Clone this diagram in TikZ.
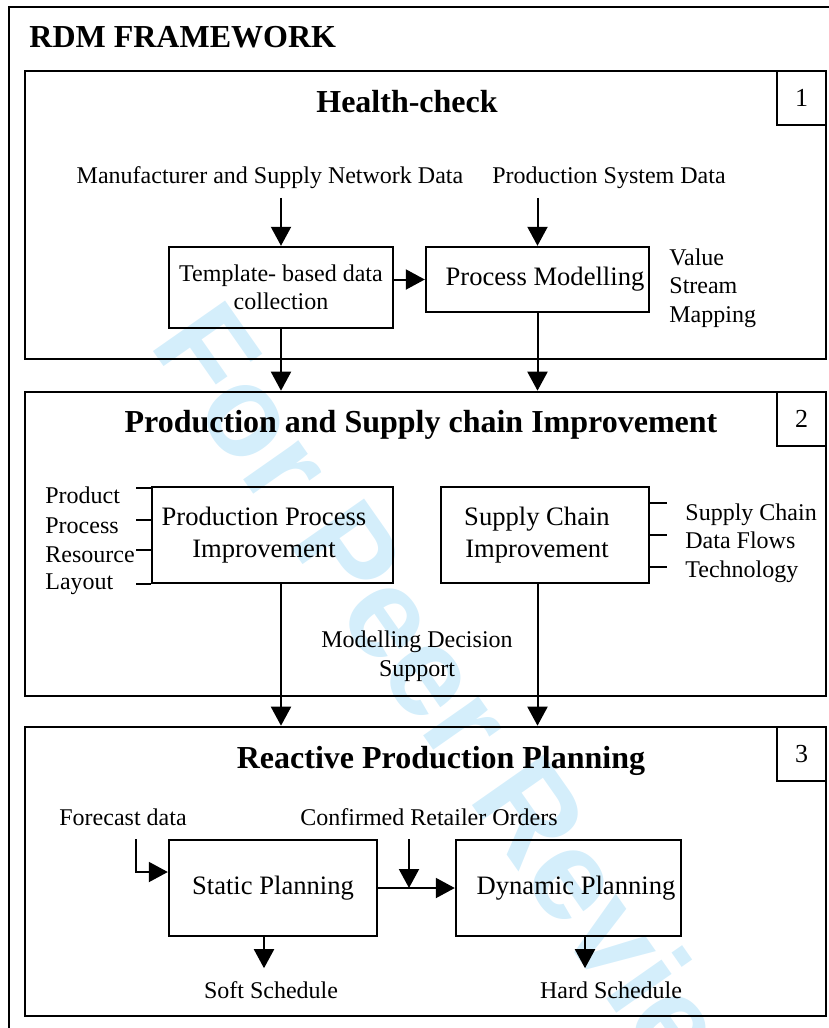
\documentclass[tikz,border=0pt]{standalone}
\usepackage{fontspec}
\setmainfont{Liberation Serif}
\newfontfamily\wmfont{Liberation Sans}
\usepackage{xcolor}
\usepackage{tikz}
\usetikzlibrary{positioning, arrows.meta, calc}
\definecolor{wmColor}{RGB}{212,238,251}
\tikzset{
    stagebox/.style={
        draw,
        line width=1.3pt,
        minimum width=400.5pt
    },
    numbox/.style={
        draw,
        line width=1.2pt,
        minimum width=24.5pt,
        minimum height=27pt,
        anchor=north east,
        font=\fontsize{13}{15}\selectfont
    },
    procbox/.style={
        draw,
        line width=1.2pt,
        align=center,
        inner sep=0pt,
        font=\fontsize{13.3}{16}\selectfont
    },
    stagetitle/.style={font=\fontsize{16}{19}\selectfont\bfseries, anchor=base, inner sep=0pt},
    txt/.style={font=\fontsize{12}{14}\selectfont, inner sep=0pt, anchor=base},
    sidetxt/.style={txt, anchor=base west},
    arr/.style={-{Triangle[length=9.5pt, width=10pt]}, line width=1pt},
    tickline/.style={line width=1pt}
}

\begin{document}
\begin{tikzpicture}[x=0.5pt, y=-0.5pt]
\useasboundingbox (0,0) rectangle (829,1028);

% watermark
\node[wmColor, rotate=-55, font=\wmfont\bfseries\fontsize{64}{70}\selectfont] (wm) at (472,726) {For Peer Review};

% frame
\draw[line width=1pt] (9,1028) -- (9,7) -- (829,7);
\node[stagetitle, anchor=base west] (rdm) at (29,47) {RDM FRAMEWORK};

% 1: Health-check
\node[stagebox, minimum height=144pt] (hc) at (425.5,215) {};
\node[numbox] (num1) at (hc.north east) {1};
\node[stagetitle] (hcTitle) at (407,112) {Health-check};
\node[txt] (mfgData) at (270,183) {Manufacturer and Supply Network Data};
\node[txt] (psData) at (609,183) {Production System Data};
\node[procbox, minimum width=112pt, minimum height=40.5pt, font=\fontsize{12}{14}\selectfont] (tmpl) at (281,287.5) {Template- based data\\collection};
\node[procbox, minimum width=111.5pt, minimum height=32.5pt] (procMod) at (537.5,279.5) {\hspace*{7.5pt}Process Modelling};
\node[sidetxt] (vsm1) at (669,265) {Value};
\node[sidetxt] (vsm2) at (669,293) {Stream};
\node[sidetxt] (vsm3) at (669,322) {Mapping};

\draw[arr] (tmpl.north) ++(0,-48) -- (tmpl.north);
\draw[arr] (procMod.north) ++(0,-48) -- (procMod.north);
\draw[arr] (procMod.west -| tmpl.east) -- (procMod.west);

% 2: Production and Supply chain Improvement
\node[stagebox, minimum height=152pt] (psci) at (425.5,544) {};
\node[numbox] (num2) at (psci.north east) {2};
\node[stagetitle] (psciTitle) at (421,432) {Production and Supply chain Improvement};
\node[procbox, minimum width=120.5pt, minimum height=48pt] (ppi) at (272.5,535) {\hspace*{-8.5pt}Production Process\\\hspace*{-8.5pt}Improvement};
\node[procbox, minimum width=104pt, minimum height=48pt] (sci) at (545,535) {\hspace*{-8pt}Supply Chain\\\hspace*{-8pt}Improvement};
\node[sidetxt] (lblProduct) at (45,503) {Product};
\node[sidetxt] (lblProcess) at (45,533) {Process};
\node[sidetxt] (lblResource) at (45,562) {Resource};
\node[sidetxt] (lblLayout) at (45,589) {Layout};
\node[sidetxt] (lblSupply) at (685,520) {Supply Chain};
\node[sidetxt] (lblFlows) at (685,548) {Data Flows};
\node[sidetxt] (lblTech) at (685,577) {Technology};
\node[txt, align=center, font=\fontsize{12}{14.2}\selectfont] (mds) at (417,676) {Modelling Decision\\Support};

\foreach \y in {488,520,550,584}
    \draw[tickline] (ppi.west |- 0,\y) -- ++(-15,0);
\foreach \y in {503,535,567}
    \draw[tickline] (sci.east |- 0,\y) -- ++(17,0);

\draw[arr] (tmpl.south) -- (tmpl.south |- psci.north);
\draw[arr] (procMod.south) -- (procMod.south |- psci.north);

% 3: Reactive Production Planning
\node[stagebox, minimum height=144.5pt] (rpp) at (425.5,871.5) {};
\node[numbox] (num3) at (rpp.north east) {3};
\node[stagetitle] (rppTitle) at (441,768) {Reactive Production Planning};
\node[txt] (forecast) at (123,825) {Forecast data};
\node[txt] (orders) at (429,825) {Confirmed Retailer Orders};
\node[procbox, minimum width=104pt, minimum height=48pt] (static) at (273,888) {Static Planning};
\node[procbox, minimum width=112.5pt, minimum height=48pt] (dynamic) at (568.5,888) {\hspace*{7.5pt}Dynamic Planning};
\node[txt] (soft) at (271,998) {Soft Schedule};
\node[txt] (hard) at (611,998) {Hard Schedule};
\coordinate (fcIn) at (136,839);
\coordinate (ordIn) at (409,839);

\draw[arr] (tmpl.south |- ppi.south) -- (tmpl.south |- rpp.north);
\draw[arr] (procMod.south |- sci.south) -- (procMod.south |- rpp.north);

\draw[arr] (fcIn) |- ([yshift=8pt]static.west);
\draw[arr] (static.east) -- (dynamic.west);
\draw[arr] (ordIn) -- (ordIn |- static.east);
\draw[arr] ([xshift=-4.5pt]static.south) -- ++(0,31);
\draw[arr] ([xshift=8.25pt]dynamic.south) -- ++(0,31);
\end{tikzpicture}
\end{document}
